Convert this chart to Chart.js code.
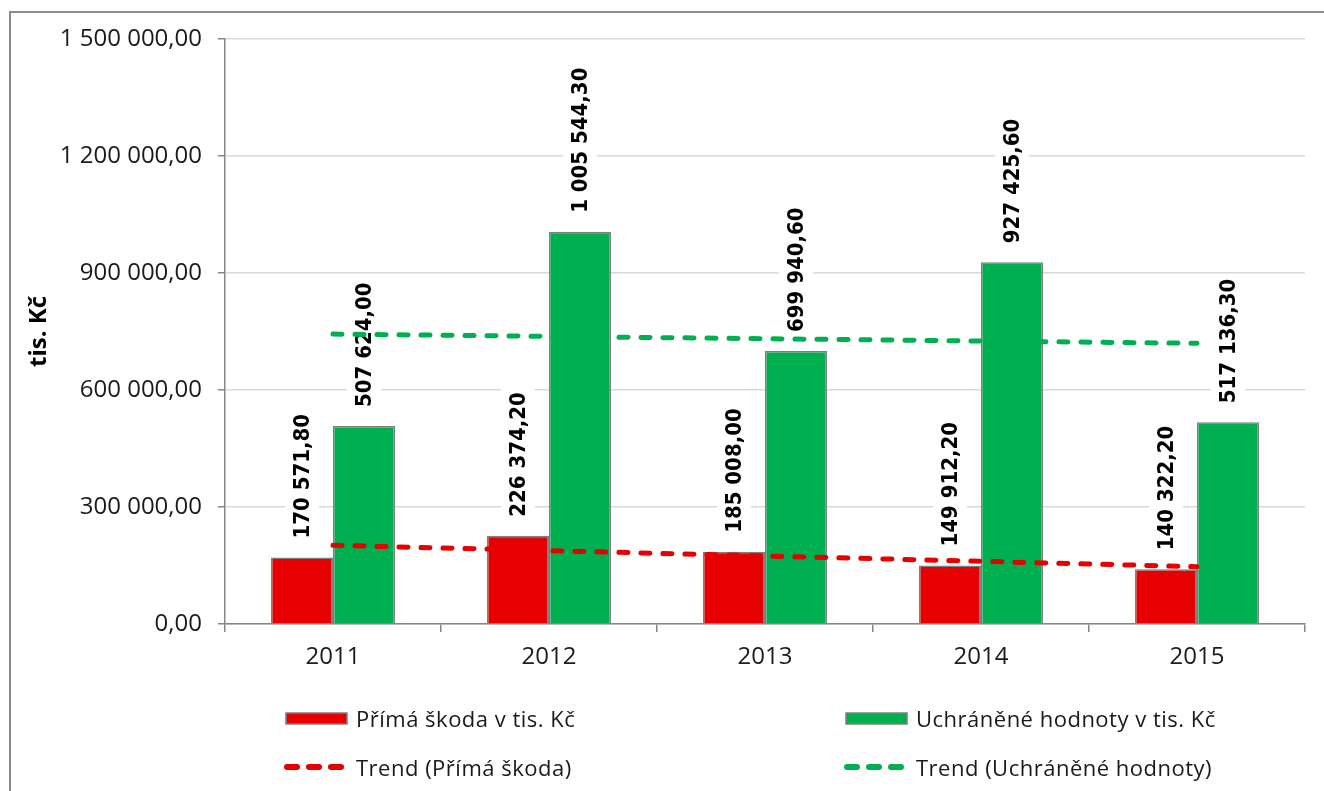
<!DOCTYPE html>
<html lang="cs">
<head>
<meta charset="UTF-8">
<title>Přímá škoda a uchráněné hodnoty</title>
<script src="https://cdn.jsdelivr.net/npm/chart.js"></script>
<style>
  body { margin: 0; background: #fff; }
  .wrap { position: relative; width: 1324px; height: 791px; overflow: hidden; }
  .frame {
    position: absolute; left: 9px; top: 11px; width: 1340px; height: 820px;
    border: 2px solid #8c8c8c; box-sizing: border-box;
  }
  canvas { position: absolute; left: 0; top: 0; }
  .legend-item {
    position: absolute; display: flex; align-items: center;
    font-family: "Open Sans", sans-serif; font-size: 22px; letter-spacing: 0.5px; color: #1a1a1a;
    transform: translateY(-50%); white-space: nowrap;
  }
  .legend-item svg { margin-right: 8px; }
</style>
</head>
<body>
<div class="wrap">
  <div class="frame"></div>
  <canvas id="chart" width="1324" height="791"></canvas>
  <div id="legend"></div>
</div>

<script>
  // data
  const years = ['2011', '2012', '2013', '2014', '2015'];
  const primaSkoda = [170571.8, 226374.2, 185008.0, 149912.2, 140322.2];
  const uchraneneHodnoty = [507624.0, 1005544.3, 699940.6, 927425.6, 517136.3];
  // trend lines
  const trendSkoda = [201800, 188100, 174400, 160700, 147000];
  const trendUchranene = [743400, 737400, 731500, 725600, 719700];
  const yTicks = [0, 300000, 600000, 900000, 1200000, 1500000];

  const RED = '#e60000';
  const GREEN = '#00b050';
  const AXIS = '#868686';

  function fmt(v) {
    const parts = v.toFixed(2).split('.');
    return parts[0].replace(/\B(?=(\d{3})+(?!\d))/g, ' ') + ',' + parts[1];
  }

  // svislé popisky nad sloupci
  const barLabels = {
    id: 'barLabels',
    afterDatasetDraw(chart, args) {
      const ds = chart.data.datasets[args.index];
      if (ds.type !== 'bar') return;
      const ctx = chart.ctx;
      ctx.save();
      ctx.font = 'bold 22px "DejaVu Sans Condensed", "DejaVu Sans", sans-serif';
      ctx.textBaseline = 'middle';
      ctx.textAlign = 'left';
      args.meta.data.forEach((bar, i) => {
        const text = fmt(ds.data[i]);
        const w = ctx.measureText(text).width;
        ctx.save();
        ctx.translate(bar.x, bar.y - 19);
        ctx.rotate(-Math.PI / 2);
        ctx.fillStyle = '#fff';
        ctx.fillRect(-4, -17, w + 8, 34);
        ctx.fillStyle = '#000';
        ctx.fillText(text, 0, 1);
        ctx.restore();
      });
      ctx.restore();
    }
  };

  const chart = new Chart(document.getElementById('chart'), {
    data: {
      labels: years,
      datasets: [
        {
          type: 'bar', label: 'Přímá škoda v tis. Kč', data: primaSkoda,
          backgroundColor: RED, borderColor: '#7f7f7f', borderWidth: 1.5, order: 2
        },
        {
          type: 'bar', label: 'Uchráněné hodnoty v tis. Kč', data: uchraneneHodnoty,
          backgroundColor: GREEN, borderColor: '#7f7f7f', borderWidth: 1.5, order: 3
        },
        {
          type: 'line', label: 'Trend (Přímá škoda)', data: trendSkoda,
          borderColor: RED, borderWidth: 5, borderDash: [9, 13], borderCapStyle: 'round',
          pointRadius: 0, fill: false, tension: 0, order: 1
        },
        {
          type: 'line', label: 'Trend (Uchráněné hodnoty)', data: trendUchranene,
          borderColor: GREEN, borderWidth: 5, borderDash: [9, 13], borderCapStyle: 'round',
          pointRadius: 0, fill: false, tension: 0, order: 0
        }
      ]
    },
    options: {
      responsive: false,
      animation: false,
      datasets: {
        bar: { categoryPercentage: 0.574, barPercentage: 1 }
      },
      layout: { padding: { left: 10, top: 39, right: 19, bottom: 107 } },
      plugins: {
        legend: { display: false },
        tooltip: { enabled: false }
      },
      scales: {
        x: {
          offset: true,
          grid: { drawOnChartArea: false, offset: true, tickLength: 8, color: AXIS, lineWidth: 1.5 },
          border: { color: AXIS, width: 1.5 },
          ticks: { color: '#1a1a1a', padding: 11, font: { family: 'Open Sans', size: 24 } },
          afterFit(scale) { scale.height = 60; }
        },
        y: {
          min: 0, max: 1500000,
          afterBuildTicks(scale) { scale.ticks = yTicks.map(v => ({ value: v })); },
          grid: { color: '#d9d9d9', lineWidth: 1.5, tickColor: AXIS, tickLength: 7 },
          border: { color: AXIS, width: 1.5 },
          ticks: {
            color: '#1a1a1a', padding: 16,
            font: { family: 'Open Sans', size: 24 },
            callback: v => fmt(v)
          },
          title: {
            display: true, text: 'tis. Kč', color: '#000',
            font: { family: 'Open Sans', size: 24, weight: 'bold' },
            padding: { top: 15, bottom: 0 }
          },
          afterFit(scale) { scale.width = 215; }
        }
      }
    },
    plugins: [barLabels]
  });

  // legenda ve dvou sloupcích
  const legendPos = [
    { left: 285, top: 718 }, { left: 845, top: 718 },
    { left: 283, top: 767 }, { left: 843, top: 767 }
  ];
  const legend = document.getElementById('legend');
  chart.data.datasets.forEach((ds, i) => {
    const item = document.createElement('div');
    item.className = 'legend-item';
    item.style.left = legendPos[i].left + 'px';
    item.style.top = legendPos[i].top + 'px';
    let icon;
    if (ds.type === 'bar') {
      icon = '<svg width="63" height="13"><rect x="1" y="1" width="61" height="11" fill="' +
        ds.backgroundColor + '" stroke="#7f7f7f" stroke-width="1.5"/></svg>';
    } else {
      icon = '<svg width="65" height="8"><line x1="4" y1="4" x2="61" y2="4" stroke="' +
        ds.borderColor + '" stroke-width="6" stroke-linecap="round" stroke-dasharray="10 12"/></svg>';
    }
    item.innerHTML = icon + '<span>' + ds.label + '</span>';
    legend.appendChild(item);
  });
</script>
</body>
</html>
